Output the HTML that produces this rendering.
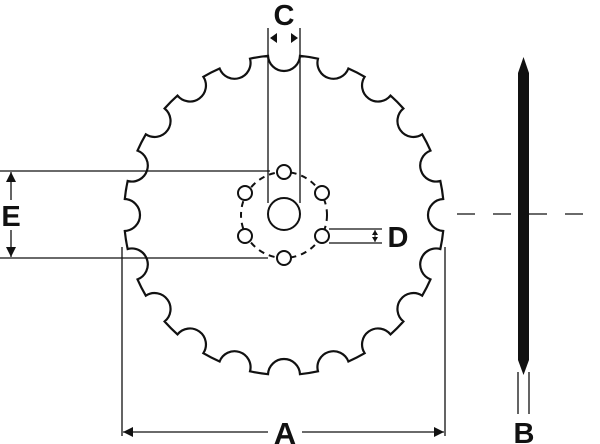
<!DOCTYPE html>
<html><head><meta charset="utf-8"><style>html,body{margin:0;padding:0;background:#fff}svg{display:block}</style></head>
<body>
<svg id="s" width="600" height="444" viewBox="0 0 600 444" xmlns="http://www.w3.org/2000/svg">
<defs>
<marker id="ar" viewBox="0 0 10 10" refX="10" refY="5" markerWidth="10" markerHeight="10" markerUnits="userSpaceOnUse" orient="auto-start-reverse"><path d="M0,0 L10,5 L0,10 z" fill="#111"/></marker>
</defs>
<path id="disc" d="" fill="none" stroke="#111" stroke-width="2.2"/>
<!-- hub -->
<circle cx="284" cy="215" r="43" fill="none" stroke="#111" stroke-width="2" stroke-dasharray="6,5"/>
<circle cx="284" cy="214" r="16" fill="#fff" stroke="#111" stroke-width="2"/>
<g fill="#fff" stroke="#111" stroke-width="2">
<circle cx="284" cy="172" r="7"/><circle cx="284" cy="258" r="7"/>
<circle cx="245" cy="193" r="7"/><circle cx="322" cy="193" r="7"/>
<circle cx="245" cy="236" r="7"/><circle cx="322" cy="236" r="7"/>
</g>
<!-- C -->
<g stroke="#111" stroke-width="1.3" fill="none">
<line x1="268" y1="28" x2="268" y2="203"/><line x1="300" y1="28" x2="300" y2="203"/>
<!-- E -->
<line x1="0" y1="171" x2="270" y2="171"/><line x1="0" y1="258" x2="268" y2="258"/>
<line x1="11" y1="172" x2="11" y2="257" marker-start="url(#ar)" marker-end="url(#ar)"/>
<!-- D -->
<line x1="329" y1="229" x2="382" y2="229"/><line x1="329" y1="243" x2="382" y2="243"/>
<line x1="375" y1="230" x2="375" y2="242" stroke-width="1"/>
<!-- A -->
<line x1="122" y1="247" x2="122" y2="436"/><line x1="445" y1="247" x2="445" y2="436"/>
<line x1="123" y1="432" x2="268" y2="432" marker-start="url(#ar)"/>
<line x1="302" y1="432" x2="444" y2="432" marker-end="url(#ar)"/>
<!-- B -->
<line x1="518" y1="372" x2="518" y2="414"/><line x1="529" y1="372" x2="529" y2="414"/>
<line x1="457" y1="214" x2="590" y2="214" stroke-dasharray="18,18"/>
</g>
<path d="M270,38 L277,33 L277,43 z M298,38 L291,33 L291,43 z" fill="#111"/>
<path d="M375,230 L372,235 L378,235 z M375,242 L372,237 L378,237 z" fill="#111"/>
<path d="M523.5,57 L529,73 L529,360 L523.5,375 L518,360 L518,73 z" fill="#111"/>
<rect x="0" y="200" width="24" height="30" fill="#fff"/>
<g font-family="Liberation Sans, sans-serif" font-weight="bold" fill="#111" text-anchor="middle">
<text x="284" y="25" font-size="29">C</text>
<text x="11" y="226" font-size="29">E</text>
<text x="398" y="247" font-size="29">D</text>
<text x="285" y="444" font-size="31">A</text>
<text x="524" y="443" font-size="29">B</text>
</g>
</svg>
<script>
(function(){
var cx=284,cy=215,R=160,r=16,n=20;
var d=Math.asin(r/(2*R))*2;
function P(a){return (cx+R*Math.cos(a)).toFixed(2)+","+(cy+R*Math.sin(a)).toFixed(2);}
var s="",step=2*Math.PI/n,base=-Math.PI/2;
for(var i=0;i<n;i++){
 var a=base+i*step;
 if(i==0)s+="M"+P(a-d);
 s+=" A"+r+","+r+" 0 0 0 "+P(a+d);
 s+=" A"+R+","+R+" 0 0 1 "+P(a+step-d);
}
s+="Z";
document.getElementById("disc").setAttribute("d",s);
})();
</script>
</body></html>
